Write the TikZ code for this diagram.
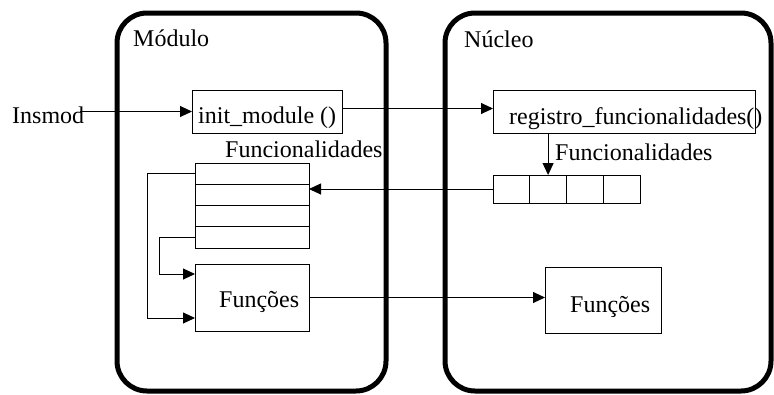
\documentclass[tikz,border=0pt]{standalone}
\usepackage{fontspec}
\setmainfont{Liberation Serif}
\usetikzlibrary{arrows.meta,calc}
\begin{document}
\begin{tikzpicture}[x=1pt,y=-1pt,
  every node/.style={font=\fontsize{24}{27}\selectfont},
  txt/.style={anchor=base west,inner sep=0pt},
  container/.style={draw,line width=5pt,rounded corners=30pt},
  cell/.style={draw,line width=0.9pt,minimum width=#1,inner sep=0pt,outer sep=0pt},
  arr/.style={line width=0.9pt,-{Triangle[length=12pt,width=11pt]}},
  link/.style={line width=0.9pt}]
\useasboundingbox (0,0) rectangle (774,394);

% the two containers
\draw[container] (117,13) rectangle (386,391);
\draw[container] (445,13) rectangle (771,391);
\node[txt] (modlabel) at (133,46) {Módulo};
\node[txt] (nuclabel) at (464,47) {Núcleo};

% module side
\node[cell=150pt,minimum height=43pt] (init) at (267,111.5) {};
\node[txt] (inittxt) at (198,123) {init\_module ()};
\node[txt] (insmod) at (12,123) {Insmod};

\foreach \i/\y in {1/173.6,2/194.9,3/216.1,4/237.4}
  \node[cell=114pt,minimum height=21.25pt] (mrow\i) at (252,\y) {};
\node[txt] (mfunclabel) at (225,157) {Funcionalidades};

\node[cell=114pt,minimum height=67pt] (mfun) at (252,297.5) {};
\node[txt] (mfuntxt) at (219,307) {Funções};

% kernel side
\node[cell=262pt,minimum height=43pt] (reg) at (624,111.5) {};
\node[txt] (regtxt) at (509,124) {registro\_funcionalidades()};

\foreach \i/\x in {1/511.4,2/548.1,3/584.9,4/621.6}
  \node[cell=36.75pt,minimum height=28pt] (ncell\i) at (\x,189) {};
\node[txt] (nfunclabel) at (555,160) {Funcionalidades};

\node[cell=116pt,minimum height=66pt] (nfun) at (603,300) {};
\node[txt] (nfuntxt) at (570,312) {Funções};

% connectors
\draw[arr] ([xshift=-4pt]insmod.east |- init.west) -- (init.west);
\draw[arr] ([yshift=3pt]init.east) -- ([yshift=3pt]reg.west);
\draw[arr] (reg.south -| ncell2) -- (ncell2.north);
\draw[arr] (ncell1.west) -- (mrow2.east |- ncell1.west);
\draw[arr] (mrow1.west) -- ++(-48,0) |- ($(mfun.south west)+(0,-13)$);
\draw[arr] (mrow4.west) -- ++(-36,0) |- ($(mfun.north west)+(0,10)$);
\draw[arr] (mfun.east) -- (nfun.west |- mfun.east);
\end{tikzpicture}
\end{document}
